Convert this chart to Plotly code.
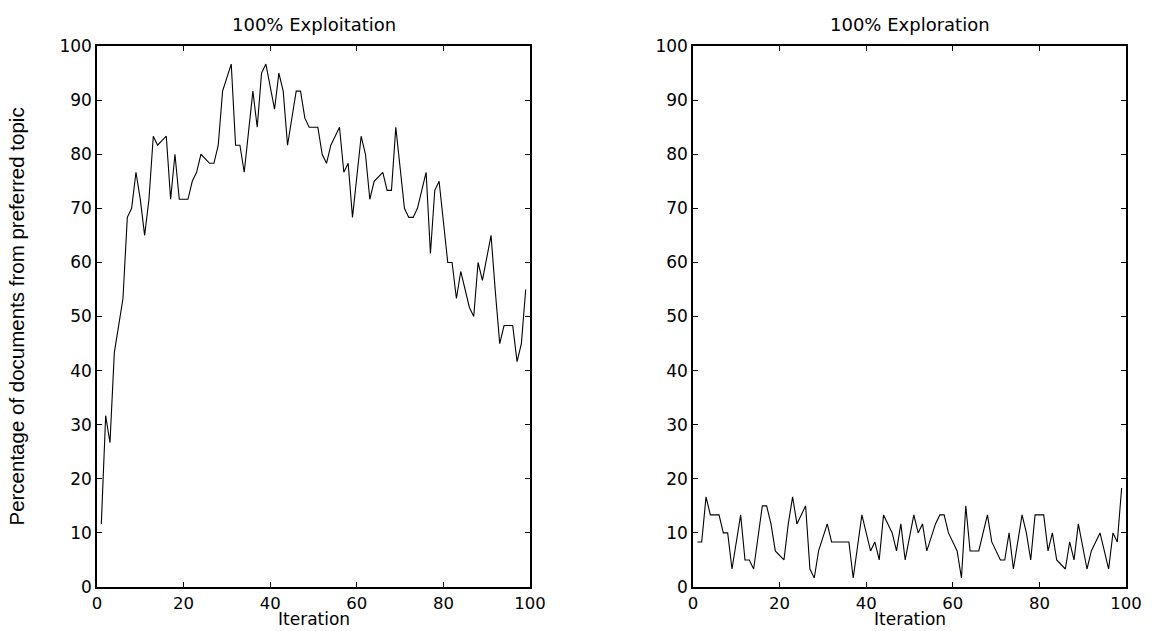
import plotly.graph_objects as go

iterations = list(range(1, 100))

exploitation = [11.67, 31.67, 26.67, 43.33, 48.33, 53.33, 68.33, 70, 76.67, 71.67,
                65, 71.67, 83.33, 81.67, 82.5, 83.33, 71.67, 80, 71.67, 71.67,
                71.67, 75, 76.67, 80, 79.17, 78.33, 78.33, 81.67, 91.67, 94,
                96.67, 81.67, 81.67, 76.67, 84, 91.67, 85, 95, 96.67, 92.5,
                88.33, 95, 91.67, 81.67, 86.67, 91.67, 91.67, 86.67, 85, 85,
                85, 80, 78.33, 81.67, 83.33, 85, 76.67, 78.33, 68.33, 76,
                83.33, 80, 71.67, 75, 75.83, 76.67, 73.33, 73.33, 85, 77.5,
                70, 68.33, 68.33, 70, 73.33, 76.67, 61.67, 73.33, 75, 67.3,
                60, 60, 53.33, 58.33, 55, 51.67, 50, 60, 56.67, 60.8,
                65, 54.5, 45, 48.33, 48.33, 48.33, 41.67, 45, 55]

exploration = [8.33, 8.33, 16.67, 13.33, 13.33, 13.33, 10, 10, 3.33, 8.33,
               13.33, 5, 5, 3.33, 9.1, 15, 15, 11.67, 6.67, 5.8,
               5, 11.67, 16.67, 11.67, 13.33, 15, 3.33, 1.67, 6.67, 9.1,
               11.67, 8.33, 8.33, 8.33, 8.33, 8.33, 1.67, 7.3, 13.33, 10,
               6.67, 8.33, 5, 13.33, 11.67, 10, 6.67, 11.67, 5, 9.1,
               13.33, 10, 11.67, 6.67, 9, 11.67, 13.33, 13.33, 10, 8.33,
               6.67, 1.67, 15, 6.67, 6.67, 6.67, 10, 13.33, 8.33, 6.67,
               5, 5, 10, 3.33, 8.33, 13.33, 10, 5, 13.33, 13.33,
               13.33, 6.67, 10, 5, 4.2, 3.33, 8.33, 5, 11.67, 7.5,
               3.33, 6.67, 8.33, 10, 6.67, 3.33, 10, 8.33, 18.3]

x_ticks = [0, 20, 40, 60, 80, 100]
y_ticks = [0, 10, 20, 30, 40, 50, 60, 70, 80, 90, 100]

titles = ["100% Exploitation", "100% Exploration"]
x_label = "Iteration"
y_label = "Percentage of documents from preferred topic"

fig = go.Figure()
fig.add_trace(go.Scatter(x=iterations, y=exploitation, mode="lines",
                         line=dict(color="black", width=1.1), xaxis="x", yaxis="y",
                         showlegend=False))
fig.add_trace(go.Scatter(x=iterations, y=exploration, mode="lines",
                         line=dict(color="black", width=1.1), xaxis="x2", yaxis="y2",
                         showlegend=False))

wide = "DejaVu Sans, Verdana, sans-serif"
tickfont = dict(family=wide, size=17, color="black")
ydom = [0.0697, 0.927]
xdoms = [[0.0842, 0.4601], [0.6016, 0.9774]]

common_x = dict(range=[0, 100], tickvals=x_ticks, ticks="inside", ticklen=5, tickwidth=1,
                tickcolor="black", showline=True, linecolor="black", linewidth=1.5,
                mirror="ticks", showgrid=False, zeroline=False,
                tickfont=dict(family=wide, size=16.5, color="black"),
                automargin=False)
common_y = dict(range=[0, 100], tickvals=y_ticks, ticks="inside", ticklen=5, tickwidth=1,
                tickcolor="black", showline=True, linecolor="black", linewidth=1.5,
                mirror="ticks", showgrid=False, zeroline=False, tickfont=tickfont,
                automargin=False)

fig.update_layout(
    width=1152, height=631,
    margin=dict(l=0, r=0, t=0, b=0),
    paper_bgcolor="white", plot_bgcolor="white",
    xaxis=dict(domain=xdoms[0], anchor="y", **common_x),
    yaxis=dict(domain=ydom, anchor="x", **common_y),
    xaxis2=dict(domain=xdoms[1], anchor="y2", **common_x),
    yaxis2=dict(domain=ydom, anchor="x2", **common_y),
)

ann = []
for i, t in enumerate(titles):
    cx = (xdoms[i][0] + xdoms[i][1]) / 2
    ann.append(dict(text=t, x=cx, y=1 - 24 / 631, xref="paper", yref="paper",
                    showarrow=False, xanchor="center", yanchor="middle",
                    font=dict(family=wide, size=18, color="black")))
    ann.append(dict(text=x_label, x=cx, y=0, xref="paper", yref="paper",
                    showarrow=False, xanchor="center", yanchor="bottom",
                    font=dict(family=wide, size=17, color="black")))
ann.append(dict(text=y_label, x=17 / 1152, y=(ydom[0] + ydom[1]) / 2, xref="paper", yref="paper",
                showarrow=False, textangle=-90, xanchor="center", yanchor="middle",
                font=dict(family="Liberation Sans, Arial, sans-serif", size=20.5, color="black")))
fig.update_layout(annotations=ann)

fig.write_html("out.html")
